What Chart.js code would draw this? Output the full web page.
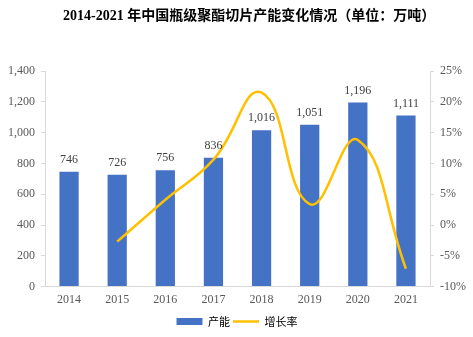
<!DOCTYPE html>
<html>
<head>
<meta charset="utf-8">
<script src="https://cdn.jsdelivr.net/npm/chart.js@4"></script>
<style>
  body { margin: 0; background: #fff; }
  #wrap { width: 473px; height: 337px; position: relative; }
  #title {
    position: absolute; left: 63px; top: 4px; width: 370px;
    text-align: center; white-space: nowrap;
    font: bold 14px "Liberation Serif", "Noto Sans CJK SC", serif; color: #000;
  }
</style>
</head>
<body>
<div id="wrap">
  <div id="title">2014-2021 年中国瓶级聚酯切片产能变化情况（单位：万吨）</div>
  <canvas id="channeng"></canvas>
</div>
<script>
  // data
  const years = ['2014','2015','2016','2017','2018','2019','2020','2021'];
  const capacity = [746, 726, 756, 836, 1016, 1051, 1196, 1111];
  const growth = [null, -2.7, 4.1, 10.6, 21.5, 3.4, 13.8, -7.1];

  Chart.defaults.font.family = '"Liberation Serif", "Times New Roman", serif';
  Chart.defaults.color = '#595959';

  // labels above the bars
  const barLabels = {
    id: 'barLabels',
    afterDatasetsDraw(chart) {
      const ctx = chart.ctx;
      const meta = chart.getDatasetMeta(1);
      ctx.save();
      ctx.font = '12px "Liberation Serif", serif';
      ctx.fillStyle = '#404040';
      ctx.textAlign = 'center';
      ctx.textBaseline = 'bottom';
      meta.data.forEach((bar, i) => {
        ctx.fillText(capacity[i].toLocaleString('en-US'), bar.x, bar.y - 6);
      });
      ctx.restore();
    }
  };

  new Chart(document.getElementById('channeng'), {
    data: {
      labels: years,
      datasets: [
        {
          type: 'line',
          label: '增长率',
          data: growth,
          yAxisID: 'y1',
          borderColor: '#FFC000',
          backgroundColor: '#FFC000',
          borderWidth: 2.5,
          pointRadius: 0,
          tension: 0.45,
          order: 0
        },
        {
          type: 'bar',
          label: '产能',
          data: capacity,
          yAxisID: 'y',
          backgroundColor: '#4472C4',
          categoryPercentage: 1,
          barPercentage: 0.4,
          order: 1
        }
      ]
    },
    options: {
      responsive: true,
      maintainAspectRatio: false,
      animation: false,
      layout: { padding: { left: 2, right: 1, top: 71, bottom: 0 } },
      plugins: {
        title: { display: false },
        legend: {
          position: 'bottom',
          labels: {
            font: { family: '"Noto Sans CJK SC", sans-serif', size: 11 },
            color: '#595959',
            usePointStyle: true,
            pointStyleWidth: 26,
            boxHeight: 7,
            padding: 3,
            generateLabels(chart) {
              const ds = chart.data.datasets;
              return [
                { text: ds[1].label, fillStyle: ds[1].backgroundColor, strokeStyle: ds[1].backgroundColor,
                  lineWidth: 0, pointStyle: 'rect', datasetIndex: 1 },
                { text: ds[0].label, fillStyle: ds[0].borderColor, strokeStyle: ds[0].borderColor,
                  lineWidth: 2.5, pointStyle: 'line', datasetIndex: 0 }
              ];
            }
          }
        }
      },
      scales: {
        x: {
          grid: { display: false, drawTicks: false },
          border: { color: '#d9d9d9' },
          ticks: { font: { size: 12 }, padding: 6 }
        },
        y: {
          position: 'left',
          min: 0,
          max: 1400,
          ticks: {
            stepSize: 200,
            font: { size: 12 },
            padding: 6,
            callback: v => v.toLocaleString('en-US')
          },
          grid: { drawOnChartArea: false, tickLength: 4, color: '#d9d9d9' },
          border: { color: '#d9d9d9' }
        },
        y1: {
          position: 'right',
          min: -10,
          max: 25,
          ticks: {
            stepSize: 5,
            font: { size: 12 },
            padding: 6,
            callback: v => v + '%'
          },
          grid: { drawOnChartArea: false, tickLength: 4, color: '#d9d9d9' },
          border: { color: '#d9d9d9' }
        }
      }
    },
    plugins: [barLabels]
  });
</script>
</body>
</html>
